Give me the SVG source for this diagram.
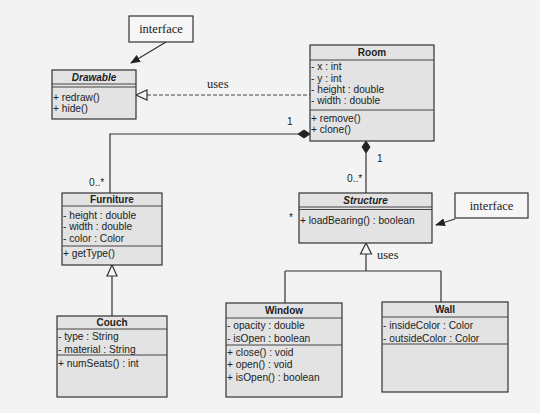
<svg xmlns="http://www.w3.org/2000/svg" width="540" height="413" viewBox="0 0 540 413">
<defs>
<marker id="fill" markerWidth="10" markerHeight="8" refX="9" refY="4" orient="auto" markerUnits="userSpaceOnUse">
<path d="M0,0 L10,4 L0,8 Z" fill="#222"/>
</marker>
<style>
.box{fill:#e3e3e3;stroke:#333;stroke-width:1.2}
.sep{stroke:#444;stroke-width:1}
.note{fill:#f6f6f6;stroke:#333;stroke-width:1.2}
.t{font-family:"Liberation Sans",Arial,sans-serif;font-size:10.2px;fill:#222}
.h{font-family:"Liberation Sans",Arial,sans-serif;font-size:10px;font-weight:bold;fill:#222;text-anchor:middle}
.hi{font-style:italic}
.s{font-family:"Liberation Serif","Times New Roman",serif;font-size:12.5px;fill:#222}
.ln{fill:none;stroke:#333;stroke-width:1.2}
.dash{fill:none;stroke:#444;stroke-width:1.2;stroke-dasharray:4 2}
.tri{fill:#f6f6f6;stroke:#333;stroke-width:1.2}
.dia{fill:#222;stroke:#222;stroke-width:1}
</style>
</defs>
<rect x="0" y="0" width="540" height="413" fill="#f3f3f3"/>

<g id="connectors">
<!-- Room uses Drawable -->
<line class="dash" x1="147" y1="95" x2="310" y2="95"/>
<path class="tri" d="M136,95 L147,90 L147,100 Z"/>
<text class="s" x="207" y="88">uses</text>
<!-- Room - Furniture composition -->
<path class="ln" d="M298,134 L110,134 L110,193"/>
<path class="dia" d="M310,134 L304,130 L298,134 L304,138 Z"/>
<text class="t" x="287" y="125">1</text>
<text class="t" x="89" y="186">0..*</text>
<!-- Room - Structure composition -->
<path class="ln" d="M366,153 L366,193"/>
<path class="dia" d="M366,141 L370,147 L366,153 L362,147 Z"/>
<text class="t" x="377" y="162">1</text>
<text class="t" x="347" y="182">0..*</text>
<!-- Couch generalization Furniture -->
<path class="ln" d="M112,276 L112,316"/>
<path class="tri" d="M112,265 L117,276 L107,276 Z"/>
<!-- Window/Wall realize Structure -->
<path class="ln" d="M366,254 L366,271 M285,271 L441,271 M285,271 L285,303 M441,271 L441,302"/>
<path class="tri" d="M366,243 L371.5,254 L360.5,254 Z"/>
<text class="s" x="377" y="259">uses</text>
<!-- note arrows -->
<line class="ln" x1="166" y1="42" x2="131" y2="63" marker-end="url(#fill)"/>
<line class="ln" x1="455" y1="219" x2="436" y2="225" marker-end="url(#fill)"/>
<text class="t" x="289" y="221" font-size="8">*</text>
</g>

<g id="note-interface-1">
<rect class="note" x="129" y="16" width="64" height="26"/>
<text class="s" x="161" y="33" text-anchor="middle">interface</text>
</g>

<g id="note-interface-2">
<rect class="note" x="455" y="193" width="73" height="25"/>
<text class="s" x="491.5" y="210" text-anchor="middle">interface</text>
</g>

<g id="Drawable">
<rect class="box" x="52" y="70" width="84" height="49"/>
<line class="sep" x1="52" y1="84" x2="136" y2="84"/>
<line class="sep" x1="52" y1="87" x2="136" y2="87"/>
<text class="h hi" x="94" y="81">Drawable</text>
<text class="t" x="53" y="101">+ redraw()</text>
<text class="t" x="53" y="112">+ hide()</text>
</g>

<g id="Room">
<rect class="box" x="310" y="45" width="124" height="96"/>
<line class="sep" x1="310" y1="60" x2="434" y2="60"/>
<line class="sep" x1="310" y1="110" x2="434" y2="110"/>
<text class="h" x="372" y="56">Room</text>
<text class="t" x="311" y="70">- x : int</text>
<text class="t" x="311" y="82">- y : int</text>
<text class="t" x="311" y="93">- height : double</text>
<text class="t" x="311" y="104">- width : double</text>
<text class="t" x="311" y="122">+ remove()</text>
<text class="t" x="311" y="133">+ clone()</text>
</g>

<g id="Furniture">
<rect class="box" x="62" y="193" width="100" height="72"/>
<line class="sep" x1="62" y1="206" x2="162" y2="206"/>
<line class="sep" x1="62" y1="246" x2="162" y2="246"/>
<text class="h" x="112" y="203">Furniture</text>
<text class="t" x="63" y="218.5">- height : double</text>
<text class="t" x="63" y="230">- width : double</text>
<text class="t" x="63" y="242">- color : Color</text>
<text class="t" x="63" y="256.5">+ getType()</text>
</g>

<g id="Couch">
<rect class="box" x="57" y="316" width="110" height="81"/>
<line class="sep" x1="57" y1="329" x2="167" y2="329"/>
<line class="sep" x1="57" y1="355" x2="167" y2="355"/>
<text class="h" x="112" y="326">Couch</text>
<text class="t" x="58" y="340">- type : String</text>
<text class="t" x="58" y="352.5">- material : String</text>
<text class="t" x="58" y="367">+ numSeats() : int</text>
</g>

<g id="Structure">
<rect class="box" x="299" y="193" width="133" height="50"/>
<line class="sep" x1="299" y1="207" x2="432" y2="207"/>
<line class="sep" x1="299" y1="209.5" x2="432" y2="209.5"/>
<text class="h hi" x="365.5" y="204">Structure</text>
<text class="t" x="300" y="223.5">+ loadBearing() : boolean</text>
</g>

<g id="Window">
<rect class="box" x="226" y="303" width="116" height="94"/>
<line class="sep" x1="226" y1="318" x2="342" y2="318"/>
<line class="sep" x1="226" y1="345" x2="342" y2="345"/>
<text class="h" x="284" y="314">Window</text>
<text class="t" x="227" y="328.5">- opacity : double</text>
<text class="t" x="227" y="341.5">- isOpen : boolean</text>
<text class="t" x="227" y="356">+ close() : void</text>
<text class="t" x="227" y="367.5">+ open() : void</text>
<text class="t" x="227" y="380.5">+ isOpen() : boolean</text>
</g>

<g id="Wall">
<rect class="box" x="382" y="302" width="126" height="90"/>
<line class="sep" x1="382" y1="317" x2="508" y2="317"/>
<line class="sep" x1="382" y1="344" x2="508" y2="344"/>
<text class="h" x="445" y="313">Wall</text>
<text class="t" x="383" y="328.5">- insideColor : Color</text>
<text class="t" x="383" y="341.5">- outsideColor : Color</text>
</g>
</svg>
